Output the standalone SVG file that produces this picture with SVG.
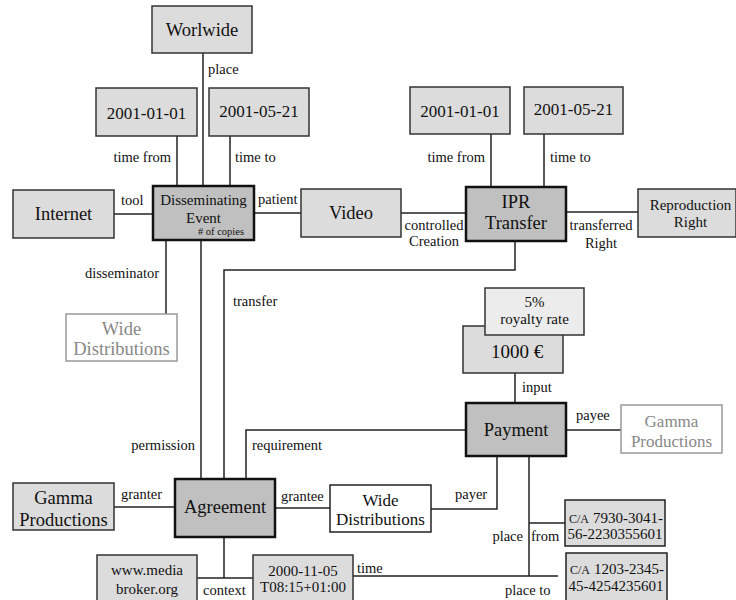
<svg xmlns="http://www.w3.org/2000/svg" width="736" height="600" viewBox="0 0 736 600">
<g id="connectors" fill="none" stroke="#222" stroke-width="1.5">
<path d="M203 53V186"/>
<path d="M177 136V186"/>
<path d="M230 136V186"/>
<path d="M114 214H153"/>
<path d="M254 213H301"/>
<path d="M401 213H466"/>
<path d="M491 134V187"/>
<path d="M544 134V187"/>
<path d="M566 212H638"/>
<path d="M515 241V270H224V479"/>
<path d="M166 240V314"/>
<path d="M201 240V479"/>
<path d="M246 479V430H466"/>
<path d="M515 373V403"/>
<path d="M566 430H621"/>
<path d="M114 507H175"/>
<path d="M275 508H330"/>
<path d="M497 456V509H431"/>
<path d="M529 456V576"/>
<path d="M529 523H565"/>
<path d="M353 576H558"/>
<path d="M224 537V578"/>
<path d="M197 578H253"/>
</g>
<g id="labels" fill="#111" font-size="14.5">
<text style="font-family:'Times New Roman'" x="208" y="74">place</text>
<text style="font-family:'Times New Roman'" x="171" y="162" text-anchor="end">time from</text>
<text style="font-family:'Times New Roman'" x="235" y="162">time to</text>
<text style="font-family:'Times New Roman'" x="121" y="205">tool</text>
<text style="font-family:'Times New Roman'" x="258" y="204">patient</text>
<text style="font-family:'Times New Roman'" x="434" y="230" text-anchor="middle">controlled</text>
<text style="font-family:'Times New Roman'" x="434" y="246" text-anchor="middle">Creation</text>
<text style="font-family:'Times New Roman'" x="601" y="230" text-anchor="middle">transferred</text>
<text style="font-family:'Times New Roman'" x="601" y="248" text-anchor="middle">Right</text>
<text style="font-family:'Times New Roman'" x="485" y="162" text-anchor="end">time from</text>
<text style="font-family:'Times New Roman'" x="550" y="162">time to</text>
<text style="font-family:'Times New Roman'" x="159" y="278" text-anchor="end">disseminator</text>
<text style="font-family:'Times New Roman'" x="233" y="306">transfer</text>
<text style="font-family:'Times New Roman'" x="522" y="392">input</text>
<text style="font-family:'Times New Roman'" x="576" y="420">payee</text>
<text style="font-family:'Times New Roman'" x="195" y="450" text-anchor="end">permission</text>
<text style="font-family:'Times New Roman'" x="252" y="450">requirement</text>
<text style="font-family:'Times New Roman'" x="121" y="499">granter</text>
<text style="font-family:'Times New Roman'" x="281" y="501">grantee</text>
<text style="font-family:'Times New Roman'" x="455" y="499">payer</text>
<text style="font-family:'Times New Roman'" x="203" y="595">context</text>
<text style="font-family:'Times New Roman'" x="357" y="573">time</text>
<text style="font-family:'Times New Roman'" x="523" y="541" text-anchor="end">place</text>
<text style="font-family:'Times New Roman'" x="531" y="541">from</text>
<text style="font-family:'Times New Roman'" x="505" y="595">place to</text>
</g>
<g id="worlwide"><rect x="152" y="6" width="100" height="47" fill="#dcdcdc" stroke="#333" stroke-width="1.5"/><text style="font-family:'Liberation Serif'" font-size="18.5" fill="#111" text-anchor="middle" x="202" y="36">Worlwide</text></g>
<g id="de-from"><rect x="96" y="88" width="101" height="48" fill="#dcdcdc" stroke="#333" stroke-width="1.5"/><text style="font-family:'Liberation Serif'" font-size="17" fill="#111" text-anchor="middle" x="146.5" y="119">2001-01-01</text></g>
<g id="de-to"><rect x="209" y="88" width="100" height="48" fill="#dcdcdc" stroke="#333" stroke-width="1.5"/><text style="font-family:'Liberation Serif'" font-size="17" fill="#111" text-anchor="middle" x="259" y="117">2001-05-21</text></g>
<g id="internet"><rect x="13" y="190" width="101" height="48" fill="#dcdcdc" stroke="#333" stroke-width="1.5"/><text style="font-family:'Liberation Serif'" font-size="18.5" fill="#111" text-anchor="middle" x="63.5" y="220">Internet</text></g>
<g id="disseminating"><rect x="153" y="186" width="101" height="54" fill="#c0c0c0" stroke="#111" stroke-width="2.5"/><text style="font-family:'Liberation Serif'" font-size="15" fill="#111" text-anchor="middle" x="203.5" y="205">Disseminating</text><text style="font-family:'Liberation Serif'" font-size="15" fill="#111" text-anchor="middle" x="203.5" y="223">Event</text><text style="font-family:'Liberation Serif'" font-size="10.5" fill="#111" text-anchor="end" x="244" y="235"># of copies</text></g>
<g id="video"><rect x="301" y="189" width="100" height="48" fill="#dcdcdc" stroke="#333" stroke-width="1.5"/><text style="font-family:'Liberation Serif'" font-size="18.5" fill="#111" text-anchor="middle" x="351" y="219">Video</text></g>
<g id="ipr-from"><rect x="410" y="87" width="100" height="47" fill="#dcdcdc" stroke="#333" stroke-width="1.5"/><text style="font-family:'Liberation Serif'" font-size="17" fill="#111" text-anchor="middle" x="460" y="117">2001-01-01</text></g>
<g id="ipr-to"><rect x="524" y="87" width="99" height="47" fill="#dcdcdc" stroke="#333" stroke-width="1.5"/><text style="font-family:'Liberation Serif'" font-size="17" fill="#111" text-anchor="middle" x="573.5" y="115">2001-05-21</text></g>
<g id="ipr"><rect x="466" y="187" width="100" height="54" fill="#c0c0c0" stroke="#111" stroke-width="2.5"/><text style="font-family:'Liberation Serif'" font-size="18.5" fill="#111" text-anchor="middle" x="516" y="208">IPR</text><text style="font-family:'Liberation Serif'" font-size="18.5" fill="#111" text-anchor="middle" x="516" y="229">Transfer</text></g>
<g id="reproduction"><rect x="638" y="189" width="98" height="48" fill="#dcdcdc" stroke="#333" stroke-width="1.5"/><text style="font-family:'Liberation Serif'" font-size="15" fill="#111" text-anchor="middle" x="690.5" y="210">Reproduction</text><text style="font-family:'Liberation Serif'" font-size="15" fill="#111" text-anchor="middle" x="690.5" y="227">Right</text></g>
<g id="wide-gray"><rect x="66" y="314" width="111" height="47" fill="#fff" stroke="#999" stroke-width="1.5"/><text style="font-family:'Liberation Serif'" font-size="18.5" fill="#888" text-anchor="middle" x="121.5" y="335">Wide</text><text style="font-family:'Liberation Serif'" font-size="18.5" fill="#888" text-anchor="middle" x="121.5" y="355">Distributions</text></g>
<g id="amount"><rect x="463" y="326" width="100" height="47" fill="#dcdcdc" stroke="#333" stroke-width="1.5"/><text style="font-family:'Liberation Serif'" font-size="19" fill="#111" text-anchor="middle" x="517" y="358">1000 €</text></g>
<g id="royalty"><rect x="485" y="288" width="99" height="47" fill="#ececec" stroke="#333" stroke-width="1.5"/><text style="font-family:'Liberation Serif'" font-size="15" fill="#111" text-anchor="middle" x="534.5" y="307">5%</text><text style="font-family:'Liberation Serif'" font-size="15" fill="#111" text-anchor="middle" x="534.5" y="324">royalty rate</text></g>
<g id="payment"><rect x="466" y="403" width="100" height="53" fill="#c0c0c0" stroke="#111" stroke-width="2.5"/><text style="font-family:'Liberation Serif'" font-size="18.5" fill="#111" text-anchor="middle" x="516" y="436">Payment</text></g>
<g id="gamma-gray"><rect x="621" y="405" width="101" height="48" fill="#fff" stroke="#999" stroke-width="1.5"/><text style="font-family:'Liberation Serif'" font-size="17" fill="#888" text-anchor="middle" x="671.5" y="427">Gamma</text><text style="font-family:'Liberation Serif'" font-size="17" fill="#888" text-anchor="middle" x="671.5" y="447">Productions</text></g>
<g id="gamma"><rect x="13" y="483" width="101" height="47" fill="#dcdcdc" stroke="#333" stroke-width="1.5"/><text style="font-family:'Liberation Serif'" font-size="18.5" fill="#111" text-anchor="middle" x="63.5" y="504">Gamma</text><text style="font-family:'Liberation Serif'" font-size="18.5" fill="#111" text-anchor="middle" x="63.5" y="526">Productions</text></g>
<g id="agreement"><rect x="175" y="479" width="100" height="58" fill="#c0c0c0" stroke="#111" stroke-width="2.5"/><text style="font-family:'Liberation Serif'" font-size="18.5" fill="#111" text-anchor="middle" x="225" y="513">Agreement</text></g>
<g id="wide"><rect x="330" y="485" width="101" height="47" fill="#fff" stroke="#222" stroke-width="1.5"/><text style="font-family:'Liberation Serif'" font-size="17" fill="#111" text-anchor="middle" x="380.5" y="506">Wide</text><text style="font-family:'Liberation Serif'" font-size="17" fill="#111" text-anchor="middle" x="380.5" y="525">Distributions</text></g>
<g id="media"><rect x="97" y="555" width="100" height="50" fill="#dcdcdc" stroke="#333" stroke-width="1.5"/><text style="font-family:'Liberation Serif'" font-size="15" fill="#111" text-anchor="middle" x="147" y="575">www.media</text><text style="font-family:'Liberation Serif'" font-size="15" fill="#111" text-anchor="middle" x="147" y="594">broker.org</text></g>
<g id="date"><rect x="253" y="555" width="100" height="50" fill="#dcdcdc" stroke="#333" stroke-width="1.5"/><text style="font-family:'Liberation Serif'" font-size="15" fill="#111" text-anchor="middle" x="303" y="576">2000-11-05</text><text style="font-family:'Liberation Serif'" font-size="15" fill="#111" text-anchor="middle" x="303" y="592">T08:15+01:00</text></g>
<g id="ca-from"><rect x="565" y="500" width="100" height="46" fill="#dcdcdc" stroke="#222" stroke-width="1.5"/><text style="font-family:'Liberation Serif'" font-size="12" fill="#111" x="569" y="523">C/A</text><text style="font-family:'Liberation Serif'" font-size="15" fill="#111" text-anchor="end" x="663" y="523">7930-3041-</text><text style="font-family:'Liberation Serif'" font-size="15" fill="#111" text-anchor="middle" x="615" y="539">56-2230355601</text></g>
<g id="ca-to"><rect x="566" y="553" width="101" height="52" fill="#dcdcdc" stroke="#222" stroke-width="1.5"/><text style="font-family:'Liberation Serif'" font-size="12" fill="#111" x="570" y="574">C/A</text><text style="font-family:'Liberation Serif'" font-size="15" fill="#111" text-anchor="end" x="664" y="574">1203-2345-</text><text style="font-family:'Liberation Serif'" font-size="15" fill="#111" text-anchor="middle" x="616" y="591">45-4254235601</text></g>
</svg>
